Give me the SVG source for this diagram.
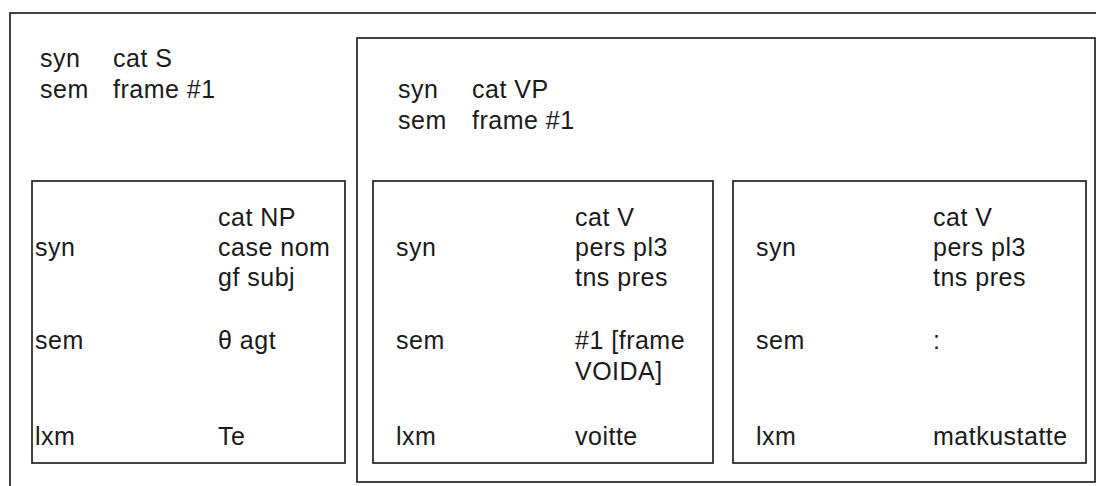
<svg xmlns="http://www.w3.org/2000/svg" width="1096" height="486" viewBox="0 0 1096 486">
  <style>
    .box { fill: none; stroke: #222; stroke-width: 1.7; }
    .t { font-family: "Liberation Sans", Arial, sans-serif; font-size: 25px; letter-spacing: 0.5px; fill: #1a1a1a; }
  </style>
  <rect x="0" y="0" width="1096" height="486" fill="#ffffff"/>

  <!-- S: outer feature structure -->
  <g id="node-s">
    <rect class="box" x="10" y="13" width="1100" height="490"/>
    <text class="t" x="40" y="67">syn</text>
    <text class="t" x="113" y="67">cat S</text>
    <text class="t" x="40" y="98">sem</text>
    <text class="t" x="113" y="98">frame #1</text>
  </g>

  <!-- NP daughter -->
  <g id="node-np">
    <rect class="box" x="32" y="181" width="313" height="282"/>
    <text class="t" x="35" y="256">syn</text>
    <text class="t" x="218" y="226">cat NP</text>
    <text class="t" x="218" y="256">case nom</text>
    <text class="t" x="218" y="286">gf subj</text>
    <text class="t" x="35" y="349">sem</text>
    <text class="t" x="218" y="349">θ agt</text>
    <text class="t" x="35" y="445">lxm</text>
    <text class="t" x="218" y="445">Te</text>
  </g>

  <!-- VP daughter -->
  <g id="node-vp">
    <rect class="box" x="357" y="38" width="738" height="444"/>
    <text class="t" x="398" y="98">syn</text>
    <text class="t" x="472" y="98">cat VP</text>
    <text class="t" x="398" y="129">sem</text>
    <text class="t" x="472" y="129">frame #1</text>
  </g>

  <!-- V: voitte -->
  <g id="node-v1">
    <rect class="box" x="373" y="181" width="340" height="282"/>
    <text class="t" x="396" y="256">syn</text>
    <text class="t" x="575" y="226">cat V</text>
    <text class="t" x="575" y="256">pers pl3</text>
    <text class="t" x="575" y="286">tns pres</text>
    <text class="t" x="396" y="349">sem</text>
    <text class="t" x="575" y="349">#1 [frame</text>
    <text class="t" x="575" y="380">VOIDA]</text>
    <text class="t" x="396" y="445">lxm</text>
    <text class="t" x="575" y="445">voitte</text>
  </g>

  <!-- V: matkustatte -->
  <g id="node-v2">
    <rect class="box" x="733" y="181" width="353" height="282"/>
    <text class="t" x="756" y="256">syn</text>
    <text class="t" x="933" y="226">cat V</text>
    <text class="t" x="933" y="256">pers pl3</text>
    <text class="t" x="933" y="286">tns pres</text>
    <text class="t" x="756" y="349">sem</text>
    <text class="t" x="933" y="349">:</text>
    <text class="t" x="756" y="445">lxm</text>
    <text class="t" x="933" y="445">matkustatte</text>
  </g>

  <g id="connectors"></g>
</svg>
